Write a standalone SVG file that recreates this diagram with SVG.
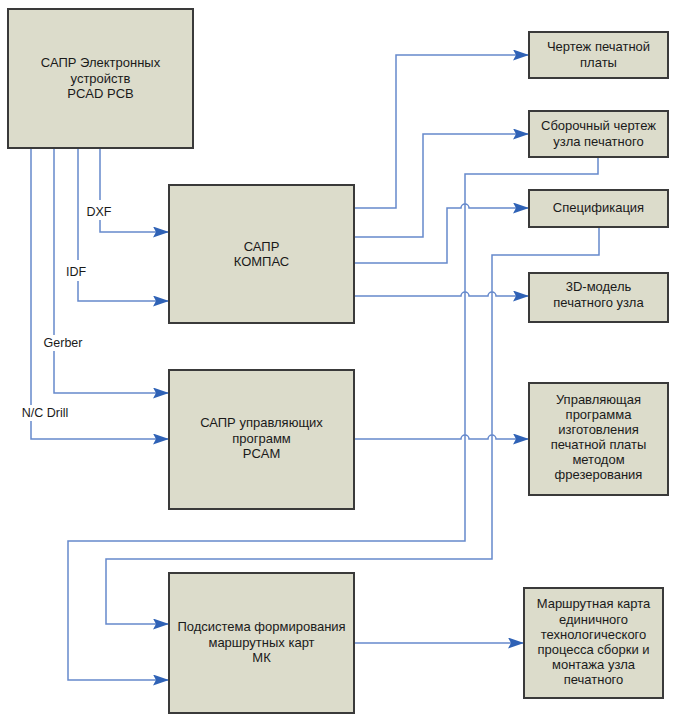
<svg xmlns="http://www.w3.org/2000/svg" width="679" height="719" viewBox="0 0 679 719">
<style>
.box{fill:#dcdccb;stroke:#3a3a3a;stroke-width:2}
.t{font-family:"Liberation Sans",Arial,sans-serif;font-size:13px;fill:#1a1a1a;text-anchor:middle}
.lbl{font-family:"Liberation Sans",Arial,sans-serif;font-size:12.5px;fill:#1a1a1a;text-anchor:middle}
.c{fill:none;stroke:#6689cc;stroke-width:1.5}
.a{marker-end:url(#arr)}
</style>
<defs>
<marker id="arr" markerUnits="userSpaceOnUse" markerWidth="16" markerHeight="11" refX="16" refY="5.5" orient="auto">
<path d="M0,0 L16,5.5 L0,11 L3,5.5 z" fill="#2f62b6"/>
</marker>
</defs>
<rect width="679" height="719" fill="#ffffff"/>
<g id="connectors">
<path class="c a" d="M100,148 V200 M100,220 V232 H169"/>
<path class="c a" d="M78,148 V260 M78,281 V301 H169"/>
<path class="c a" d="M54,148 V335 M54,351 V393 H169"/>
<path class="c a" d="M31,148 V405 M31,421 V439 H169"/>
<path class="c a" d="M354,208 H396 V55 H529"/>
<path class="c a" d="M354,237 H423 V134 H529"/>
<path class="c a" d="M354,263 H447 V208 H461 a4,4 0 0 1 8,0 H529"/>
<path class="c a" d="M354,296 H461 a4,4 0 0 1 8,0 H488 a4,4 0 0 1 8,0 H529"/>
<path class="c a" d="M354,439 H461 a4,4 0 0 1 8,0 H488 a4,4 0 0 1 8,0 H529"/>
<path class="c a" d="M598,157 V174 H465 V541 H68 V680 H169"/>
<path class="c a" d="M599,227 V255 H492 V559 H106 V624 H169"/>
<path class="c a" d="M354,643 H524"/>
<text class="lbl" x="99" y="216">DXF</text>
<text class="lbl" x="76" y="276">IDF</text>
<text class="lbl" x="63" y="347">Gerber</text>
<text class="lbl" x="45" y="417">N/C Drill</text>
</g>
<g id="pcad">
<rect class="box" x="8" y="9" width="185" height="139"/>
<text class="t" x="100.5" y="67">САПР Электронных</text>
<text class="t" x="100.5" y="83">устройств</text>
<text class="t" x="100.5" y="98">PCAD PCB</text>
</g>
<g id="kompas">
<rect class="box" x="169" y="185" width="185" height="138"/>
<text class="t" x="261.5" y="251">САПР</text>
<text class="t" x="261.5" y="266">КОМПАС</text>
</g>
<g id="pcam">
<rect class="box" x="169" y="370" width="185" height="139"/>
<text class="t" x="261.5" y="427">САПР управляющих</text>
<text class="t" x="261.5" y="443">программ</text>
<text class="t" x="261.5" y="458">PCAM</text>
</g>
<g id="mk">
<rect class="box" x="169" y="573" width="185" height="140"/>
<text class="t" x="261.5" y="631">Подсистема формирования</text>
<text class="t" x="261.5" y="647">маршрутных карт</text>
<text class="t" x="261.5" y="662">МК</text>
</g>
<g id="chertezh">
<rect class="box" x="529" y="32" width="139" height="46"/>
<text class="t" x="598.5" y="51">Чертеж печатной</text>
<text class="t" x="598.5" y="67">платы</text>
</g>
<g id="sborochny">
<rect class="box" x="529" y="111" width="139" height="46"/>
<text class="t" x="598.5" y="130">Сборочный чертеж</text>
<text class="t" x="598.5" y="146">узла печатного</text>
</g>
<g id="spec">
<rect class="box" x="529" y="190" width="139" height="37"/>
<text class="t" x="598.5" y="212">Спецификация</text>
</g>
<g id="model3d">
<rect class="box" x="529" y="273" width="139" height="49"/>
<text class="t" x="598.5" y="291">3D-модель</text>
<text class="t" x="598.5" y="307">печатного узла</text>
</g>
<g id="up">
<rect class="box" x="529" y="383" width="139" height="112"/>
<text class="t" x="598.5" y="404">Управляющая</text>
<text class="t" x="598.5" y="419">программа</text>
<text class="t" x="598.5" y="434">изготовления</text>
<text class="t" x="598.5" y="449">печатной платы</text>
<text class="t" x="598.5" y="464">методом</text>
<text class="t" x="598.5" y="479">фрезерования</text>
</g>
<g id="route">
<rect class="box" x="524" y="588" width="139" height="110"/>
<text class="t" x="593.5" y="608">Маршрутная карта</text>
<text class="t" x="593.5" y="624">единичного</text>
<text class="t" x="593.5" y="639">технологического</text>
<text class="t" x="593.5" y="654">процесса сборки и</text>
<text class="t" x="593.5" y="669">монтажа узла</text>
<text class="t" x="593.5" y="684">печатного</text>
</g>
</svg>
